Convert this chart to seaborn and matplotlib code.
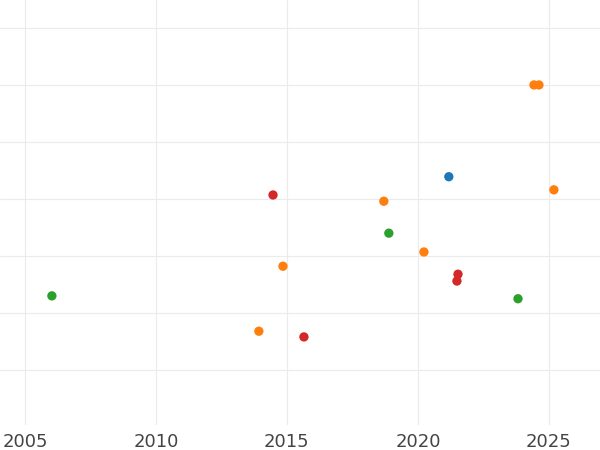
import matplotlib
matplotlib.use("Agg")
import matplotlib.pyplot as plt
import seaborn as sns
import pandas as pd

years = [2006.03, 2013.93, 2014.47, 2014.85, 2015.65, 2018.70, 2018.89, 2020.23,
         2021.18, 2021.53, 2021.49, 2023.82, 2024.43, 2024.62, 2025.19]
values = [1.30, 0.68, 3.07, 1.82, 0.58, 2.96, 2.40, 2.07,
          3.39, 1.68, 1.56, 1.25, 5.0, 5.0, 3.16]
groups = ["C", "B", "D", "B", "D", "B", "C", "B",
          "A", "D", "D", "C", "B", "B", "B"]

df = pd.DataFrame({"year": years, "value": values, "group": groups})
palette = {"A": "#1f77b4", "B": "#ff7f0e", "C": "#2ca02c", "D": "#d62728"}

sns.set_style("white")
fig = plt.figure(figsize=(6, 4.5), dpi=100)
ax = fig.add_axes([0, 25/450, 1, 425/450])
sns.scatterplot(data=df, x="year", y="value", hue="group", palette=palette,
                s=45, edgecolor="none", legend=False, ax=ax, zorder=3)
ax.set_xlim(2004.05, 2026.95)
ax.set_ylim(-0.965, 6.49)
ax.set_xticks([2005, 2010, 2015, 2020, 2025])
ax.set_yticks(range(0, 7))
ax.set_yticklabels([])
ax.grid(True, color="#ebebeb", linewidth=0.8)
ax.set_axisbelow(True)
for s in ax.spines.values():
    s.set_visible(False)
ax.tick_params(axis="x", length=0, labelsize=13, colors="#444444", pad=6)
ax.tick_params(axis="y", length=0)
ax.set_xlabel("")
ax.set_ylabel("")
fig.savefig("out.png", dpi=100)
